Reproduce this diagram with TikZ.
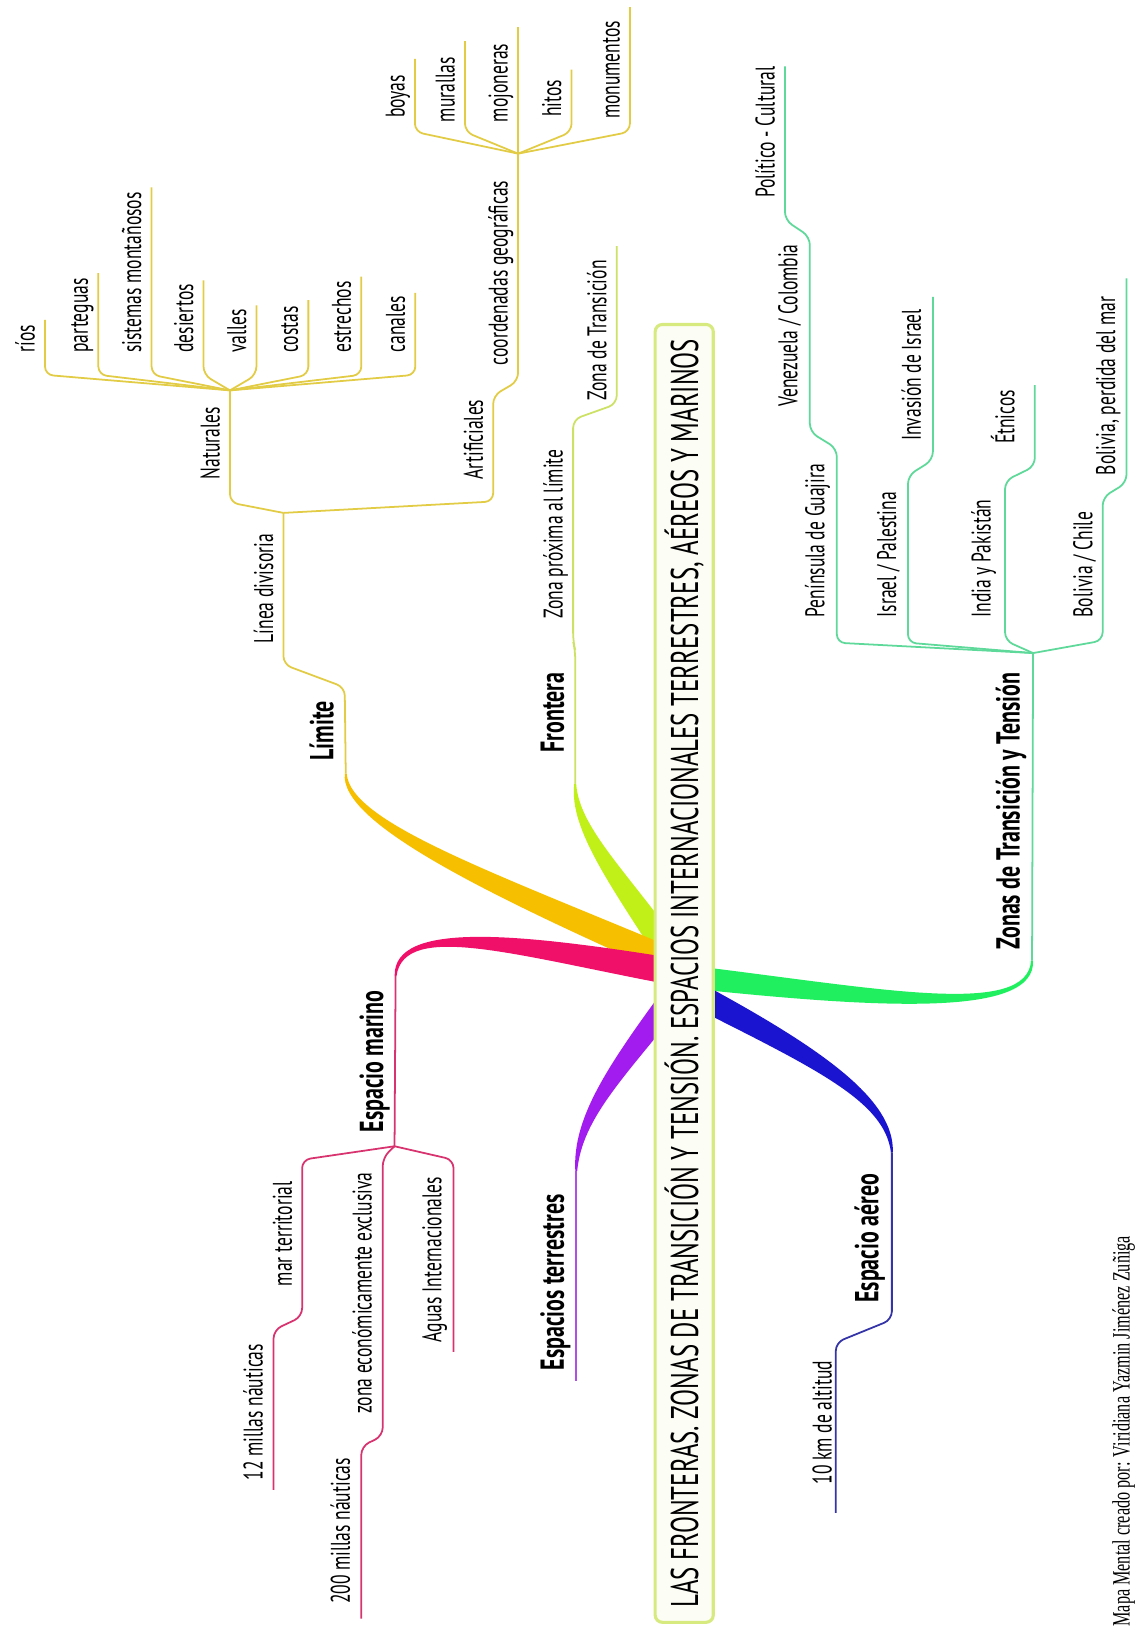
\documentclass[tikz,border=0pt]{standalone}
\usepackage{fontspec}
\usetikzlibrary{calc}
\newfontfamily\lf[FakeStretch=0.65]{PT Sans}
\newfontfamily\blf[FakeStretch=0.66]{PT Sans}
\newfontfamily\tf[FakeStretch=0.644]{PT Sans}
\newfontfamily\ff[FakeStretch=0.65]{Liberation Serif}
\definecolor{ylwline}{HTML}{E3CC45}
\definecolor{ylwband}{HTML}{F6C000}
\definecolor{limeline}{HTML}{CDE264}
\definecolor{limeband}{HTML}{C0F018}
\definecolor{pinkline}{HTML}{D8336F}
\definecolor{pinkband}{HTML}{F0106A}
\definecolor{purpline}{HTML}{B04EE6}
\definecolor{purpband}{HTML}{A21CF0}
\definecolor{blueline}{HTML}{3434A8}
\definecolor{blueband}{HTML}{1A14D0}
\definecolor{grnline}{HTML}{5ED99A}
\definecolor{grnband}{HTML}{20F060}
\definecolor{boxline}{HTML}{D7EA80}
\definecolor{boxfill}{HTML}{FCFDF4}
\newcommand\band[6]{%
  \pgfmathsetmacro\bwa{#6}%
  \pgfmathsetmacro\bwb{#6*0.85}%
  \pgfmathsetmacro\bwc{#6*0.4}%
  \fill[#1] ($(#2)!\bwa pt!90:(#3)$) .. controls ($(#3)!\bwb pt!-90:(#2)$) and ($(#4)!\bwc pt!90:(#5)$) .. ($(#5)!0.45pt!-90:(#4)$)
     -- ($(#5)!0.45pt!90:(#4)$) .. controls ($(#4)!\bwc pt!-90:(#5)$) and ($(#3)!\bwb pt!90:(#2)$) .. ($(#2)!\bwa pt!-90:(#3)$) -- cycle;}
\tikzset{
  conn/.style={line width=0.85pt, rounded corners=4pt},
  yl/.style={conn, draw=ylwline},
  lm/.style={conn, draw=limeline},
  pk/.style={conn, draw=pinkline},
  pp/.style={conn, draw=purpline},
  bl/.style={conn, draw=blueline},
  gr/.style={conn, draw=grnline},
  lab/.style={rotate=90, anchor=base west, inner sep=0pt, text=black, font=\lf\fontsize{13}{15}\selectfont},
  blab/.style={rotate=90, anchor=base west, inner sep=0pt, text=black, font=\blf\bfseries\fontsize{16}{18}\selectfont},
}
\begin{document}
\begin{tikzpicture}[x=0.5pt, y=-0.5pt]
\useasboundingbox (0,0) rectangle (1094,1568);
\fill[white] (0,0) rectangle (1094,1568);

% junctions
\coordinate (Jnat) at (221.5,376);
\coordinate (Jlin) at (273,494);
\coordinate (Jart) at (499,148);
\coordinate (Jmar) at (380,1104);
\coordinate (Jzon) at (995,629);

% band control points
\coordinate (lA) at (656,935); \coordinate (lB) at (600,850); \coordinate (lC) at (553,800); \coordinate (lD) at (554,755);
\coordinate (yA) at (655,930); \coordinate (yB) at (470,850); \coordinate (yC) at (332,792); \coordinate (yD) at (333,745);
\coordinate (pA) at (655,937); \coordinate (pB) at (500,910); \coordinate (pC) at (384,886); \coordinate (pD) at (381,940);
\coordinate (uA) at (660,945); \coordinate (uB) at (595,1030); \coordinate (uC) at (556,1075); \coordinate (uD) at (555,1128);
\coordinate (gA) at (665,941); \coordinate (gB) at (850,962); \coordinate (gC) at (994,980); \coordinate (gD) at (994,925);
\coordinate (bA) at (665,955); \coordinate (bB) at (790,1020); \coordinate (bC) at (857,1060); \coordinate (bD) at (859,1110);

\band{limeband}{lA}{lB}{lC}{lD}{6.5}
\band{ylwband}{yA}{yB}{yC}{yD}{6.5}
\band{pinkband}{pA}{pB}{pC}{pD}{6.5}
\band{purpband}{uA}{uB}{uC}{uD}{6}
\band{grnband}{gA}{gB}{gC}{gD}{5.5}
\band{blueband}{bA}{bB}{bC}{bD}{6}

% ---- Limite tree (yellow)
\draw[yl] (yD) -- (332,662) -- (273,640) -- (Jlin);
\draw[yl] (Jlin) -- (221.5,484) -- (Jnat);
\draw[yl] (Jlin) -- (475,483) -- (475,381) -- (499,367) -- (Jart);
\foreach \i/\lx/\ty in {1/43.3/308, 2/94.7/263, 3/146/180.5, 4/196/270, 5/247/294, 6/297/289, 7/348/266.5, 8/400/282}{
  \coordinate (nat\i) at (\lx,\ty);
  \draw[yl] (Jnat) -- (\lx,361) -- (nat\i);
}
\foreach \i/\lx/\ty in {1/399.6/56.7, 2/447.8/39.5, 4/550.5/67, 5/606.7/6.9}{
  \coordinate (art\i) at (\lx,\ty);
  \draw[yl] (Jart) -- (\lx,127) -- (art\i);
}
\coordinate (art3) at (499,25.8);
\draw[yl] (Jart) -- (art3);

\node[lab] (rios) at (33.3,340) {ríos};
\node[lab] (parteguas) at (84.7,340) {parteguas};
\node[lab] (sistemas) at (136,340) {sistemas montañosos};
\node[lab] (desiertos) at (186,340) {desiertos};
\node[lab] (valles) at (237,340) {valles};
\node[lab] (costas) at (287,340) {costas};
\node[lab] (estrechos) at (338,340) {estrechos};
\node[lab] (canales) at (390,340) {canales};
\node[lab] (naturales) at (211.5,462) {Naturales};
\node[lab] (artificiales) at (465,462) {Artificiales};
\node[lab] (coordenadas) at (489,352) {coordenadas geográficas};
\node[lab] (boyas) at (389.6,114) {boyas};
\node[lab] (murallas) at (437.8,118) {murallas};
\node[lab] (mojoneras) at (489,118) {mojoneras};
\node[lab] (hitos) at (540.5,113) {hitos};
\node[lab] (monumentos) at (596.7,115) {monumentos};
\node[lab] (lineadiv) at (263,620) {Línea divisoria};
\node[blab] (limite) at (321,733) {Límite};

% ---- Frontera (lime)
\coordinate (zt) at (594,237);
\draw[lm] (lD) -- (554,626) -- (552,618) -- (552,404) -- (594,389) -- (zt);
\node[blab] (frontera) at (543,725) {Frontera};
\node[lab] (zonaprox) at (542,596) {Zona próxima al límite};
\node[lab] (zonatrans) at (584,386) {Zona de Transición};

% ---- Espacio marino (pink)
\coordinate (m1) at (263.5,1435);
\coordinate (m2) at (348,1559);
\coordinate (m3) at (436.8,1302);
\draw[pk] (pD) -- (Jmar);
\draw[pk] (Jmar) -- (291,1117) -- (291,1268) -- (263.5,1281) -- (m1);
\draw[pk] (Jmar) -- (368.6,1115) -- (368.6,1383) -- (348,1393) -- (m2);
\draw[pk] (Jmar) -- (436.8,1117) -- (m3);
\node[blab] (espmar) at (369,1091) {Espacio marino};
\node[lab] (marterr) at (281,1239) {mar territorial};
\node[lab] (millas12) at (253,1426) {12 millas náuticas};
\node[lab] (zonaeco) at (358,1362) {zona económicamente exclusiva};
\node[lab] (millas200) at (337,1545) {200 millas náuticas};
\node[lab] (aguas) at (425,1293) {Aguas Internacionales};

% ---- Espacios terrestres (purple)
\coordinate (t1) at (555,1330);
\draw[pp] (uD) -- (t1);
\node[blab] (espter) at (543,1320) {Espacios terrestres};

% ---- Espacio aereo (blue)
\coordinate (a1) at (805,1457);
\draw[bl] (bD) -- (859,1271) -- (805,1293) -- (a1);
\node[blab] (espaer) at (846,1255) {Espacio aéreo};
\node[lab] (km10) at (801,1430) {10 km de altitud};

% ---- Zonas de Transicion y Tension (green)
\coordinate (z1) at (756,64);
\coordinate (z2) at (898.5,286);
\coordinate (z3) at (996.7,371);
\coordinate (z4) at (1085,268);
\draw[gr] (gD) -- (Jzon);
\draw[gr] (Jzon) -- (806,619) -- (806,432) -- (780,416) -- (780,228) -- (756,212) -- (z1);
\draw[gr] (Jzon) -- (874.5,619) -- (874.5,458) -- (898.5,443) -- (z2);
\draw[gr] (Jzon) -- (968,617) -- (968,463) -- (996.7,449) -- (z3);
\draw[gr] (Jzon) -- (1062,617) -- (1062,479) -- (1085,465) -- (z4);
\node[blab] (zonas) at (982,915) {Zonas de Transición y Tensión};
\node[lab] (peninsula) at (794,595) {Península de Guajira};
\node[lab] (venezuela) at (768,392) {Venezuela / Colombia};
\node[lab] (politico) at (746,191) {Político - Cultural};
\node[lab] (israel) at (863,595) {Israel / Palestina};
\node[lab] (invasion) at (887,425) {Invasión de Israel};
\node[lab] (india) at (954,595) {India y Pakistán};
\node[lab] (etnicos) at (977,428) {Étnicos};
\node[lab] (bolchile) at (1052,595) {Bolivia / Chile};
\node[lab] (bolmar) at (1074,458) {Bolivia, perdida del mar};

% ---- central topic
\node[rotate=90, draw=boxline, line width=1.5pt, fill=boxfill, rounded corners=3.5pt,
      minimum width=625pt, minimum height=28pt, inner sep=0pt,
      font=\tf\fontsize{18.6}{20}\selectfont] (title) at (659,937.5)
  {LAS FRONTERAS. ZONAS DE TRANSICIÓN Y TENSIÓN. ESPACIOS INTERNACIONALES TERRESTRES, AÉREOS Y MARINOS};

% ---- footer
\node[rotate=90, anchor=base west, inner sep=0pt, font=\ff\fontsize{12}{14}\selectfont] (footer) at (1088,1567)
  {Mapa Mental creado por: Viridiana Yazmin Jiménez Zuñiga};
\end{tikzpicture}
\end{document}
